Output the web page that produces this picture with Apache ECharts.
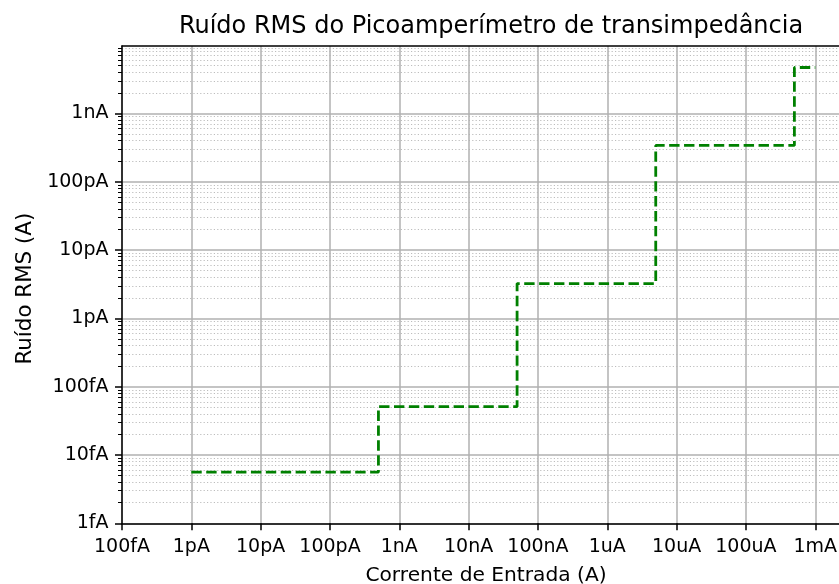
<!DOCTYPE html>
<html><head><meta charset="utf-8">
<script src="https://cdn.jsdelivr.net/npm/echarts@6/dist/echarts.min.js"></script>
<style>html,body{margin:0;padding:0;background:#fff}#c{width:839px;height:584px}</style>
</head><body><div id="c"></div>
<script>
// Step points: input current (A) where the range changes, and RMS noise (A)
const inputCurrent = [1e-12, 5e-10, 5e-8, 5e-6, 5e-4, 1e-3];
const rmsNoise = [5.6e-15, 5.1e-14, 3.23e-12, 3.4e-10, 4.7e-9, 4.7e-9];

const xMin = 1e-13, xMax = 2.2e-3;
const yMin = 1e-15, yMax = 9.7e-9;
const xDecadeExp = [-13, -12, -11, -10, -9, -8, -7, -6, -5, -4, -3];
const xTickLabels = ['100fA', '1pA', '10pA', '100pA', '1nA', '10nA', '100nA', '1uA', '10uA', '100uA', '1mA'];
const yDecadeExp = [-15, -14, -13, -12, -11, -10, -9];
const yTickLabels = ['1fA', '10fA', '100fA', '1pA', '10pA', '100pA', '1nA'];
const minorMultipliers = [2, 3, 4, 5, 6, 7, 8, 9];

const FONT = 'DejaVu Sans';
function labelFor(v, exps, labels) {
  const e = Math.log10(v);
  const r = Math.round(e);
  if (Math.abs(e - r) > 1e-6) return '';
  const i = exps.indexOf(r);
  return i >= 0 ? labels[i] : '';
}
const yMinorValues = [];
for (const e of yDecadeExp.concat([-8])) {
  for (const m of minorMultipliers) {
    const v = m * Math.pow(10, e);
    if (v > yMin && v < yMax) yMinorValues.push(v);
  }
}
const xMajorValues = xDecadeExp.map(e => Math.pow(10, e));
const yMajorValues = yDecadeExp.map(e => Math.pow(10, e));

const chart = echarts.init(document.getElementById('c'), null, {renderer: 'canvas'});
chart.setOption({
  animation: false,
  backgroundColor: '#ffffff',
  title: {
    text: 'Ruído RMS do Picoamperímetro de transimpedância',
    left: 486, top: 10, textAlign: 'center',
    textStyle: {fontFamily: FONT, fontSize: 24, fontWeight: 'normal', color: '#000'}
  },
  grid: {left: 122, right: 0, top: 46, bottom: 60.7, containLabel: false, outerBoundsMode: 'none'},
  xAxis: [{
    type: 'log', logBase: 10, min: xMin, max: xMax,
    name: 'Corrente de Entrada (A)', nameLocation: 'middle', nameGap: 42,
    nameTextStyle: {fontFamily: FONT, fontSize: 20.2, color: '#000', padding: [0, 0, 0, 11]},
    axisLine: {show: true, onZero: false, lineStyle: {color: '#000', width: 1.5}},
    axisTick: {show: true, customValues: xMajorValues, length: 7, lineStyle: {color: '#000', width: 1.5}},
    axisLabel: {show: true, customValues: xMajorValues, margin: 14, fontFamily: FONT, fontSize: 19, color: '#000',
      formatter: v => labelFor(v, xDecadeExp, xTickLabels)},
    splitLine: {show: true, lineStyle: {color: '#b0b0b0', width: 1.5}},
    minorTick: {show: false}, minorSplitLine: {show: false}
  }, {
    type: 'log', logBase: 10, min: xMin, max: xMax, position: 'top',
    axisLine: {show: true, onZero: false, lineStyle: {color: '#000', width: 1.5}},
    axisTick: {show: false}, axisLabel: {show: false}, splitLine: {show: false}
  }],
  yAxis: [{
    type: 'log', logBase: 10, min: yMin, max: yMax,
    name: 'Ruído RMS (A)', nameLocation: 'middle', nameGap: 86,
    nameTextStyle: {fontFamily: FONT, fontSize: 21.4, color: '#000', padding: [0, 8, 0, 0]},
    axisLine: {show: true, onZero: false, lineStyle: {color: '#000', width: 1.5}},
    axisTick: {show: true, customValues: yMajorValues, length: 7, lineStyle: {color: '#000', width: 1.5}},
    axisLabel: {show: true, customValues: yMajorValues, margin: 13.5, fontFamily: FONT, fontSize: 19, color: '#000',
      formatter: v => labelFor(v, yDecadeExp, yTickLabels)},
    splitLine: {show: true, lineStyle: {color: '#b0b0b0', width: 1.5}},
    minorTick: {show: false}, minorSplitLine: {show: false}
  }, {
    type: 'log', logBase: 10, min: yMin, max: yMax, position: 'left',
    axisLine: {show: false},
    axisTick: {show: true, customValues: yMinorValues, length: 4, lineStyle: {color: '#000', width: 1}},
    axisLabel: {show: false},
    splitLine: {show: true, lineStyle: {color: '#bdbdbd', width: 1, type: [1.2, 2.2]}}
  }],
  series: [{
    type: 'line', xAxisIndex: 0, yAxisIndex: 0,
    data: inputCurrent.map((x, i) => [x, rmsNoise[i]]),
    step: 'end', symbol: 'none', showSymbol: false,
    lineStyle: {color: '#008000', width: 2.8, type: [10.4, 4.5]},
    z: 5
  }]
});
</script></body></html>
